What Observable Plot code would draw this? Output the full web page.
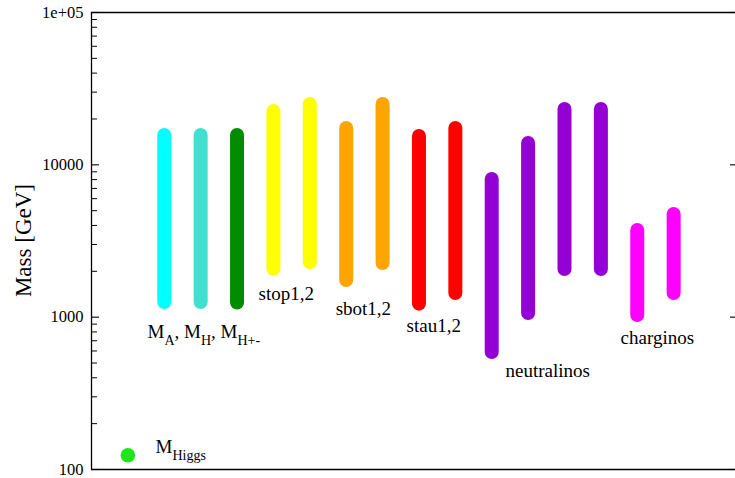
<!DOCTYPE html>
<html>
<head>
<meta charset="utf-8">
<script src="https://cdn.jsdelivr.net/npm/d3@7"></script>
<script src="https://cdn.jsdelivr.net/npm/@observablehq/plot@0.6"></script>
<style>
  html, body { margin: 0; padding: 0; background: #fff; overflow: hidden; }
  svg, svg text, svg tspan { font-family: "Liberation Serif", "DejaVu Serif", serif !important; }
</style>
</head>
<body>
<div id="chart"></div>
<script>
// Particle mass ranges (GeV)
const categories = ["MA", "MH", "MH+-", "stop1", "stop2", "sbot1", "sbot2", "stau1", "stau2",
                    "neutralino1", "neutralino2", "neutralino3", "neutralino4", "chargino1", "chargino2"];
const massMin = [1248, 1248, 1240, 2065, 2285, 1740, 2250, 1217, 1430, 586, 1057, 2056, 2056, 1025, 1430];
const massMax = [15590, 15590, 15590, 22390, 24900, 17320, 24900, 15350, 17320, 8010, 13800, 23070, 23070, 3707, 4720];
const colors = ["#00ffff", "#40e0d0", "#008b00", "#ffff00", "#ffff00", "#ffa500", "#ffa500", "#ff0000", "#ff0000",
                "#9400d3", "#9400d3", "#9400d3", "#9400d3", "#ff00ff", "#ff00ff"];
const higgsMass = [124];

// Group labels
const labelText = ["M_{A}, M_{H}, M_{H+-}", "stop1,2", "sbot1,2", "stau1,2", "neutralinos", "charginos", "M_{Higgs}"];
const labelX = [1.54, 4.59, 6.71, 8.66, 11.38, 14.54, 1.76];
const labelY = [735, 1287, 1041, 805, 402, 671, 129];

// Axis ticks
const majorTicks = [100, 1000, 10000, 100000];
const majorTickLabels = ["100", "1000", "10000", "1e+05"];
const minorTicks = [100, 1000, 10000].flatMap(d => [2, 3, 4, 5, 6, 7, 8, 9].map(k => k * d));

const bars = categories.map((c, i) => ({cat: c, x: i + 2, lo: massMin[i], hi: massMax[i], color: colors[i]}));
const labels = labelText.map((t, i) => ({text: t, x: labelX[i], y: labelY[i]}));

const X0 = 0, X1 = 17.7;
const pxPerUnit = (735 - 91) / (X1 - X0);

const chart = Plot.plot({
  width: 735,
  height: 478,
  marginLeft: 91,
  marginRight: 0,
  marginTop: 12,
  marginBottom: 9,
  style: {background: "#fff", color: "#000"},
  x: {domain: [X0, X1], axis: null},
  y: {type: "log", domain: [100, 100000]},
  marks: [
    // frame top/bottom and left axis
    Plot.ruleY([100, 100000], {x1: X0, x2: X1 + 1, stroke: "#000", strokeWidth: 1.3}),
    Plot.ruleX([X0], {y1: 100, y2: 100000, stroke: "#000", strokeWidth: 1.3}),
    // inward ticks (left)
    Plot.ruleY(majorTicks, {x1: X0, x2: X0 + 8 / pxPerUnit, stroke: "#000", strokeWidth: 1.1}),
    Plot.ruleY(minorTicks, {x1: X0, x2: X0 + 6 / pxPerUnit, stroke: "#000", strokeWidth: 1}),
    // inward ticks (right edge)
    Plot.ruleY(majorTicks, {x1: X1 - 5 / pxPerUnit, x2: X1, stroke: "#000", strokeWidth: 1.1}),
    Plot.axisY({ticks: majorTicks, tickSize: 0, tickPadding: 8, fontSize: 16.5,
                tickFormat: d => majorTickLabels[majorTicks.indexOf(d)], label: null}),
    Plot.text(["Mass [GeV]"], {x: -1.87, y: 3184, rotate: -90, fontSize: 23, fill: "#000"}),
    // mass ranges
    Plot.ruleX(bars, {x: "x", y1: "lo", y2: "hi", stroke: "color", strokeWidth: 14, strokeLinecap: "round"}),
    // Higgs
    Plot.dot(higgsMass, {x: 1, y: d => d, r: 7.3, fill: "#1fe51f", stroke: null}),
    // labels
    Plot.text(labels, {x: "x", y: "y", text: "text", textAnchor: "start", lineAnchor: "bottom",
                       fontSize: 19, fill: "#000"})
  ]
});

// subscripts
d3.select(chart).selectAll("text").each(function () {
  const t = this.textContent;
  if (!t.includes("_{")) return;
  const el = d3.select(this);
  el.text(null);
  const parts = t.split(/(_\{[^}]*\})/).filter(p => p.length);
  let lowered = false;
  for (const p of parts) {
    const m = p.match(/^_\{([^}]*)\}$/);
    if (m) {
      el.append("tspan").attr("dy", lowered ? 0 : 7).attr("font-size", 14).text(m[1]);
      lowered = true;
    } else {
      el.append("tspan").attr("dy", lowered ? -7 : 0).text(p);
      lowered = false;
    }
  }
});

document.getElementById("chart").appendChild(chart);
</script>
</body>
</html>
